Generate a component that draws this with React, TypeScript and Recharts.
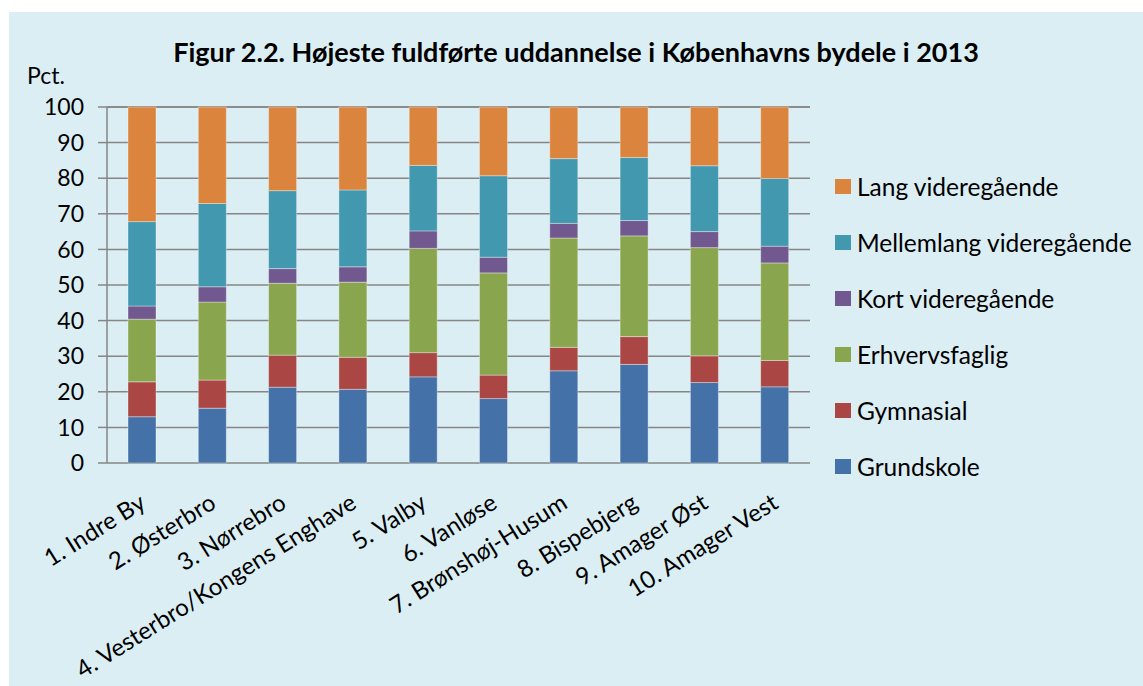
import { Bar, BarChart, CartesianGrid, XAxis, YAxis } from "recharts";

const districts = [
  "1. Indre By",
  "2. Østerbro",
  "3. Nørrebro",
  "4. Vesterbro/Kongens Enghave",
  "5. Valby",
  "6. Vanløse",
  "7. Brønshøj-Husum",
  "8. Bispebjerg",
  "9. Amager Øst",
  "10. Amager Vest",
];

const grundskole = [13.0, 15.4, 21.3, 20.7, 24.2, 18.1, 25.9, 27.7, 22.6, 21.4];
const gymnasial = [9.8, 7.9, 9.0, 9.0, 6.8, 6.6, 6.6, 7.8, 7.5, 7.4];
const erhvervsfaglig = [17.6, 21.9, 20.2, 21.1, 29.3, 28.7, 30.7, 28.3, 30.4, 27.4];
const kortVideregaaende = [3.7, 4.3, 4.1, 4.3, 4.9, 4.4, 4.1, 4.3, 4.5, 4.7];
const mellemlangVideregaaende = [23.7, 23.4, 21.9, 21.6, 18.4, 22.9, 18.2, 17.7, 18.5, 19.0];
const langVideregaaende = [32.2, 27.1, 23.5, 23.3, 16.4, 19.3, 14.5, 14.2, 16.5, 20.1];

const yTicks = [0, 10, 20, 30, 40, 50, 60, 70, 80, 90, 100];
const edgeTicks = [0, 1, 2, 3, 4, 5, 6, 7, 8, 9, 10];

// stack order, bottom to top
const series = [
  { key: "grundskole", name: "Grundskole", color: "#4472A8", values: grundskole },
  { key: "gymnasial", name: "Gymnasial", color: "#AA4644", values: gymnasial },
  { key: "erhverv", name: "Erhvervsfaglig", color: "#89A54E", values: erhvervsfaglig },
  { key: "kort", name: "Kort videregående", color: "#71588F", values: kortVideregaaende },
  { key: "mellem", name: "Mellemlang videregående", color: "#4198AF", values: mellemlangVideregaaende },
  { key: "lang", name: "Lang videregående", color: "#DB843D", values: langVideregaaende },
];

const data = districts.map((name, i) => {
  const row: Record<string, string | number> = { name };
  series.forEach((s) => {
    row[s.key] = s.values[i];
  });
  return row;
});

const font = "Lato, 'Open Sans', sans-serif";
const grey = "#868686";

const XTick = ({ x, y, payload }: any) => {
  const tx = x + 5;
  const ty = y + 36;
  return (
    <text
      x={tx}
      y={ty}
      transform={`rotate(-32 ${tx} ${ty})`}
      textAnchor="end"
      fontFamily={font}
      fontSize={24}
      fill="#000"
    >
      {payload.value}
    </text>
  );
};

export default function App() {
  return (
    <div style={{ position: "absolute", left: 0, top: 0, width: 1143, height: 686, background: "#fff" }}>
      <div
        style={{
          position: "absolute",
          left: 9,
          top: 12,
          width: 1134,
          height: 674,
          background: "#DBEEF4",
          fontFamily: font,
        }}
      >
        <div
          style={{
            position: "absolute",
            left: 0,
            width: 1134,
            top: 23,
            textAlign: "center",
            fontWeight: 700,
            fontSize: 27,
          }}
        >
          Figur 2.2. Højeste fuldførte uddannelse i Københavns bydele i 2013
        </div>
        <div style={{ position: "absolute", left: 18, top: 49, fontSize: 23 }}>Pct.</div>

        <BarChart
          width={1134}
          height={674}
          data={data}
          margin={{ top: 95, right: 333, bottom: 23, left: 8 }}
          barSize={28}
        >
          <CartesianGrid xAxisId="cat" vertical={false} stroke={grey} strokeWidth={1.5} />
          <XAxis
            xAxisId="edge"
            type="number"
            domain={[0, 10]}
            ticks={edgeTicks}
            tick={false}
            tickSize={7}
            height={0}
            stroke={grey}
            strokeWidth={1.5}
          />
          <XAxis
            xAxisId="cat"
            dataKey="name"
            axisLine={false}
            tickLine={false}
            height={200}
            interval={0}
            tick={<XTick />}
          />
          <YAxis
            domain={[0, 100]}
            ticks={yTicks}
            width={90}
            tickSize={9}
            tickMargin={14}
            stroke={grey}
            strokeWidth={1.5}
            tick={{ fill: "#000", fontSize: 23, fontFamily: font }}
          />
          {series.map((s) => (
            <Bar
              key={s.key}
              xAxisId="cat"
              dataKey={s.key}
              name={s.name}
              stackId="a"
              fill={s.color}
              stroke="rgba(255,255,255,0.35)"
              strokeWidth={1}
              isAnimationActive={false}
            />
          ))}
        </BarChart>

        <div style={{ position: "absolute", left: 826, top: 146 }}>
          {[...series].reverse().map((s) => (
            <div key={s.key} style={{ display: "flex", alignItems: "center", height: 56, fontSize: 24.5 }}>
              <span style={{ width: 16, height: 15, background: s.color, marginRight: 6, flexShrink: 0 }} />
              {s.name}
            </div>
          ))}
        </div>
      </div>
    </div>
  );
}
